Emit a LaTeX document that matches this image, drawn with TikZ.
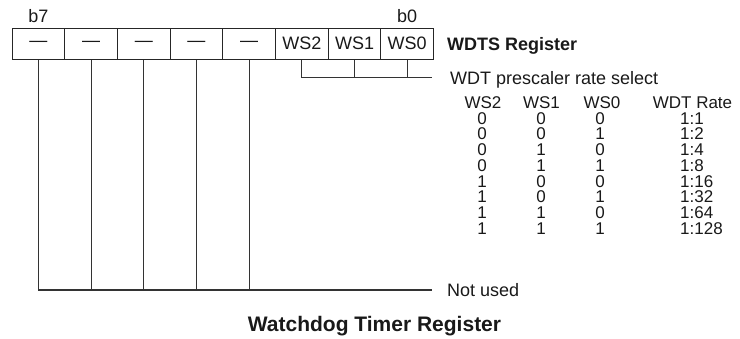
\documentclass[tikz,border=0pt]{standalone}
\usepackage{fontspec}
\setmainfont{Liberation Sans}
\begin{document}
\begin{tikzpicture}[x=1pt,y=-1pt,
  txt/.style={inner sep=0pt, text=black!90, font=\fontsize{18}{18}\selectfont},
  tabtxt/.style={inner sep=0pt, text=black!90, font=\fontsize{17}{17}\selectfont},
  boldtxt/.style={inner sep=0pt, text=black!90, font=\fontsize{18}{18}\selectfont\bfseries},
  bitbox/.style={draw=black!85, line width=0.9pt, minimum width=52.7pt, minimum height=31.5pt, inner sep=0pt, text=black!90, font=\fontsize{18}{18}\selectfont},
  wire/.style={draw=black!80, line width=1.1pt}]
\useasboundingbox (0,0) rectangle (740,338);
% register boxes (c7 = b7 ... c0 = b0)
\foreach \i/\t in {7/—,6/—,5/—,4/—,3/—,2/WS2,1/WS1,0/WS0}{
  \node[bitbox] (c\i) at ({12+52.7*(7-\i+0.5)},43.75) {\t};
}
\node[txt, anchor=base] (b7) at (c7 |- 0,22) {b7};
\node[txt, anchor=base] (b0) at (c0 |- 0,22) {b0};
\node[boldtxt, anchor=base west] (reg) at (447,50.5) {WDTS Register};
% prescaler connector
\coordinate (ps) at (432,77.5);
\draw[wire] (c2.south) -- (c2.south |- ps) -- (ps);
\draw[wire] (c1.south) -- (c1.south |- ps);
\draw[wire] (c0.south) -- (c0.south |- ps);
\node[txt, anchor=base west] (pslabel) at (450,84.5) {WDT prescaler rate select};
% not used connector
\coordinate (nu) at (432,290);
\draw[wire] (c7.south) -- (c7.south |- nu) -- (nu);
\foreach \i in {6,5,4,3}{
  \draw[wire] (c\i.south) -- (c\i.south |- nu);
}
\node[txt, anchor=base west] (nulabel) at (447,296.5) {Not used};
% table
\node[tabtxt, anchor=base] (h2) at (483,108.5) {WS2};
\node[tabtxt, anchor=base] (h1) at (541.5,108.5) {WS1};
\node[tabtxt, anchor=base] (h0) at (602,108.5) {WS0};
\node[tabtxt, anchor=base] (hr) at (692.5,108.5) {WDT Rate};
\foreach \a/\b/\c/\r [count=\k] in {0/0/0/1:1,0/0/1/1:2,0/1/0/1:4,0/1/1/1:8,1/0/0/1:16,1/0/1/1:32,1/1/0/1:64,1/1/1/1:128}{
  \node[tabtxt, anchor=base] (ra\k) at (482,{108.5+15.7*\k}) {\a};
  \node[tabtxt, anchor=base] (rb\k) at (541,{108.5+15.7*\k}) {\b};
  \node[tabtxt, anchor=base] (rc\k) at (600,{108.5+15.7*\k}) {\c};
  \node[tabtxt, anchor=base west] (rr\k) at (680,{108.5+15.7*\k}) {\r};
}
% title
\node[inner sep=0pt, text=black!90, font=\fontsize{21}{21}\selectfont\bfseries, anchor=base] (title) at (374.5,331) {Watchdog Timer Register};
\end{tikzpicture}
\end{document}
